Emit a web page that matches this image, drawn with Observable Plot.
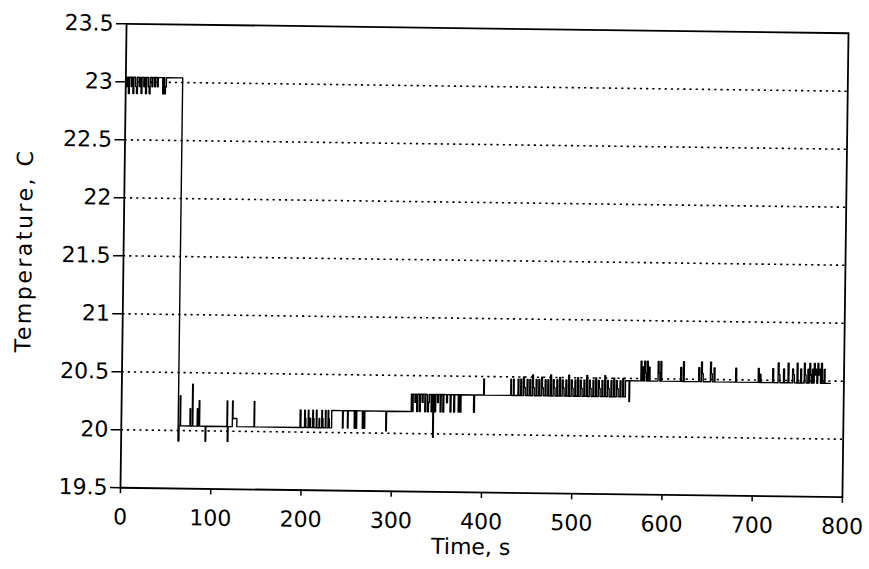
<!DOCTYPE html>
<html>
<head>
<meta charset="utf-8">
<script src="https://cdn.jsdelivr.net/npm/d3@7"></script>
<script src="https://cdn.jsdelivr.net/npm/@observablehq/plot@0.6"></script>
<style>
  html, body { margin: 0; padding: 0; background: #fff; }
  #chart { width: 869px; height: 569px; overflow: hidden; }
  #chart svg { transform: rotate(0.75deg); transform-origin: 484px 260px; }
</style>
</head>
<body>
<div id="chart"></div>
<script>
// ---- axis values & labels ----
const xTicks = [0, 100, 200, 300, 400, 500, 600, 700, 800];
const xTickLabels = ["0", "100", "200", "300", "400", "500", "600", "700", "800"];
const yTicks = [19.5, 20, 20.5, 21, 21.5, 22, 22.5, 23, 23.5];
const yTickLabels = ["19.5", "20", "20.5", "21", "21.5", "22", "22.5", "23", "23.5"];
const gridLevels = [20, 20.5, 21, 21.5, 22, 22.5, 23];
const xTitle = "Time, s";
const yTitle = "Temperature, C";

const warmPhase = [
  [0,23.04],[1,22.96],[2,23.04],[3,22.9],[4,23.04],[6,22.96],[7,23.04],[8,22.9],[9,23.04],
  [11,22.96],[12,22.9],[13,23.04],[15,22.96],[16,23.04],[17,22.9],[18,23.04],[20,22.96],
  [21,23.04],[22,22.9],[23,23.04],[25,22.96],[26,22.9],[27,23.04],[29,22.96],[30,23.04],
  [32,22.96],[33,23.04],[35,22.96],[36,23.04],[41,22.9],[42,23.04],[43,22.9],[44,22.96],[45,23.04]
];
const dropPhase = [
  [63,19.91],[64,20.04],[65,20.3],[65.6,20.04]
];
const coolPhase = [
  [76,20.19],[76.6,20.04],[78.5,20.4],[79.2,20.04],[84,20.19],[84.6,20.04],[86,20.26],[86.7,20.04],
  [93,19.91],[93.7,20.04],[117,20.26],[117.6,19.91],[118.3,20.04],[123,20.26],[123.6,20.11],
  [128,20.04],[147,20.26],[147.6,20.04]
];
const rise1 = [
  [198,20.19],[199,20.04],[203,20.19],[203.7,20.12],[204.4,20.04],[207,20.19],[207.7,20.04],
  [209,20.12],[209.7,20.04],[212,20.19],[212.7,20.12],[213.4,20.04],[216,20.19],[216.7,20.04],
  [219,20.12],[219.7,20.04],[222,20.19],[222.7,20.12],[223.4,20.04],[226,20.19],[226.7,20.04],
  [229,20.19],[229.7,20.12],[230.4,20.04],[233,20.19]
];
const level2 = [
  [245,20.04],[245.7,20.19],[250.5,20.04],[251.2,20.19],[258,20.04],[258.7,20.19],[260,20.04],
  [260.7,20.19],[267,20.04],[267.7,20.19],[269,20.04],[269.7,20.19],[293,20.02],[293.7,20.19]
];
const level3 = [
  [321,20.34],[322,20.19],[323,20.34],[325,20.27],[326,20.34],[327,20.19],[328,20.34],[330,20.19],
  [331,20.34],[333,20.27],[334,20.34],[336,20.19],[337,20.34],[339,20.19],[340,20.27],[341,20.34],
  [343,20.19],[344,20.34],[345,19.97],[345.7,20.34],[347,20.19],[348,20.34],[350,20.27],[351,20.34],
  [353,20.19],[354,20.34],[356,20.19],[357,20.34],[360,20.27],[361,20.34],[364,20.19],[365,20.34],
  [368,20.19],[369,20.34],[373,20.19],[374,20.34],[375,20.19],[376,20.34],[390,20.19],[391,20.34]
];
const level3b = [
  [401,20.48],[401.7,20.34],[431,20.48],[431.7,20.34],[434,20.48],[434.7,20.34],
  [439,20.48],[440,20.34],[442,20.48],[443,20.34],[445,20.5],[446,20.41],[447,20.34],[449,20.48],
  [450,20.34],[452,20.48],[453,20.34],[455,20.52],[456,20.41],[457,20.34],[459,20.48],[460,20.34],
  [462,20.48],[463,20.34],[465,20.5],[466,20.41],[467,20.34],[469,20.48],[470,20.34],[472,20.48],
  [473,20.34],[475,20.52],[476,20.34],[478,20.48],[479,20.41],[480,20.34],[482,20.48],[483,20.34],
  [485,20.5],[486,20.34],[488,20.48],[489,20.41],[490,20.34],[492,20.48],[493,20.34],[495,20.52],
  [496,20.34],[498,20.48],[499,20.41],[500,20.34],[502,20.48],[503,20.34],[505,20.5],[506,20.34],
  [508,20.48],[509,20.41],[510,20.34],[512,20.48],[513,20.34],[515,20.52],[516,20.34],[518,20.48],
  [519,20.41],[520,20.34],[522,20.48],[523,20.34],[525,20.5],[526,20.34],[528,20.48],[529,20.41],
  [530,20.34],[532,20.48],[533,20.34],[535,20.52],[536,20.34],[538,20.48],[539,20.41],[540,20.34],
  [542,20.48],[543,20.34],[545,20.5],[546,20.34],[548,20.48],[549,20.41],[550,20.34],[552,20.48],
  [553,20.34],[555,20.5],[556,20.34],[558,20.48],[562,20.3],[562.7,20.48]
];
const level4 = [
  [575,20.65],[576,20.48],[577,20.6],[578,20.48],[579,20.65],[580,20.55],[581,20.48],[582,20.65],
  [583,20.48],[584,20.6],[585,20.48],[594,20.65],[595,20.55],[596,20.48],[597,20.65],[598,20.48],
  [619,20.6],[620,20.48],[622,20.65],[623,20.48],[639,20.6],[640,20.48],[642,20.65],[643,20.55],
  [644,20.48],[652,20.65],[653,20.55],[654,20.48],[656,20.6],[657,20.48],[680,20.6],[681,20.48],
  [705,20.6],[706,20.48],[707,20.55],[708,20.48],[721,20.6],[722,20.48],[727,20.65],[728,20.55],
  [729,20.48],[733,20.6],[734,20.48],[738,20.65],[739,20.48],[743,20.6],[744,20.55],[745,20.48],
  [748,20.65],[749,20.48],[752,20.6],[753,20.48],[756,20.65],[757,20.55],[758,20.48],[760,20.6],
  [761,20.48],[762,20.65],[763,20.55],[764,20.48],[765,20.6],[766,20.48],[767,20.65],[768,20.55],
  [769,20.6],[770,20.48],[771,20.65],[772,20.55],[773,20.6],[774,20.48],[775,20.65],[776,20.48],
  [778,20.6],[779,20.48],[785,20.48]
];

const segments = [warmPhase, dropPhase, coolPhase, rise1, level2, level3, level3b, level4];
const series = segments.flat().map(([t, v]) => ({t, v}));

const chart = Plot.plot({
  width: 869,
  height: 569,
  marginLeft: 123,
  marginRight: 24,
  marginTop: 28,
  marginBottom: 77,
  style: {fontFamily: "DejaVu Sans", fontSize: "22px", color: "#000", background: "#fff", overflow: "visible"},
  x: {domain: [0, 800]},
  y: {domain: [19.5, 23.5]},
  marks: [
    Plot.ruleY(gridLevels, {stroke: "#000", strokeWidth: 1.6, strokeDasharray: "2.2,4"}),
    Plot.line(series, {x: "t", y: "v", curve: "step-after", stroke: "#000", strokeWidth: 1.4}),
    Plot.frame({stroke: "#000", strokeWidth: 1.8}),
    Plot.axisY(yTicks, {tickSize: 10, tickPadding: 3, strokeWidth: 1.5, tickFormat: (d, i) => yTickLabels[i], label: null}),
    Plot.axisX(xTicks, {tickSize: 6, tickPadding: 15, strokeWidth: 1.5, tickFormat: (d, i) => xTickLabels[i], label: null}),
    Plot.text([xTitle], {frameAnchor: "bottom", textAnchor: "middle", dx: -10, dy: 62, fontSize: 22}),
    Plot.text([yTitle], {frameAnchor: "left", textAnchor: "middle", lineAnchor: "middle", dx: -99, dy: -4, rotate: -90, fontSize: 22})
  ]
});

d3.select(chart).selectAll("text")
  .filter(function () { return this.textContent === yTitle; })
  .attr("letter-spacing", "2.5px");

document.getElementById("chart").appendChild(chart);
</script>
</body>
</html>
